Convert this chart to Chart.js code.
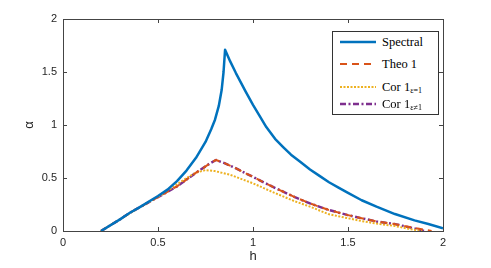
<!DOCTYPE html>
<html>
<head>
<meta charset="utf-8">
<script src="https://cdn.jsdelivr.net/npm/chart.js@4"></script>
<style>
  html, body { margin: 0; padding: 0; background: #fff; }
  #wrap { position: relative; width: 491px; height: 268px; }
  #legend {
    position: absolute; left: 332px; top: 31px; width: 105px; height: 82px;
    border: 1px solid #333; background: #fff;
    font-family: "Liberation Serif", "DejaVu Serif", serif; font-size: 12.5px; color: #000;
  }
  #legend .row { position: absolute; left: 0; height: 16px; line-height: 16px; white-space: nowrap; }
  #legend svg { position: absolute; left: 6px; top: 0; }
  #legend span { position: absolute; left: 49px; top: 0; }
  #legend sub { font-size: 8px; vertical-align: -2px; }
</style>
</head>
<body>
<div id="wrap">
  <canvas id="myChart" width="491" height="268"></canvas>
  <div id="legend">
    <div class="row" style="top:2px">
      <svg width="38" height="16"><line x1="1" y1="8" x2="37" y2="8" stroke="#0072BD" stroke-width="2.5"/></svg>
      <span>Spectral</span>
    </div>
    <div class="row" style="top:24px">
      <svg width="38" height="16"><line x1="1" y1="8" x2="37" y2="8" stroke="#D95319" stroke-width="2" stroke-dasharray="7,5"/></svg>
      <span>Theo 1</span>
    </div>
    <div class="row" style="top:47px">
      <svg width="38" height="16"><line x1="1" y1="8" x2="37" y2="8" stroke="#EDB120" stroke-width="2" stroke-dasharray="2,1.5"/></svg>
      <span>Cor 1<sub>ε=1</sub></span>
    </div>
    <div class="row" style="top:64px">
      <svg width="38" height="16"><line x1="1" y1="8" x2="37" y2="8" stroke="#7E2F8E" stroke-width="2.5" stroke-dasharray="6,2.5,2,2.5"/></svg>
      <span>Cor 1<sub>ε≠1</sub></span>
    </div>
  </div>
</div>
<script>
const hSpectral = [0.2, 0.3, 0.35, 0.4, 0.5, 0.55, 0.6, 0.65, 0.7, 0.75, 0.78, 0.8, 0.82, 0.835, 0.845, 0.853,
  0.88, 0.91, 0.96, 1.0, 1.03, 1.07, 1.116, 1.16, 1.2, 1.25, 1.3, 1.35, 1.4, 1.45, 1.5, 1.572, 1.65, 1.747, 1.85, 1.923, 2.0];
const spectral = [0, 0.11, 0.17, 0.22, 0.33, 0.39, 0.47, 0.57, 0.69, 0.84, 0.96, 1.05, 1.18, 1.33, 1.50, 1.71,
  1.60, 1.49, 1.32, 1.19, 1.10, 0.98, 0.87, 0.79, 0.72, 0.65, 0.58, 0.52, 0.46, 0.41, 0.36, 0.29, 0.23, 0.16, 0.10, 0.066, 0.025];

const hTheo = [0.2, 0.3, 0.35, 0.4, 0.5, 0.6, 0.7, 0.78, 0.805, 0.85, 0.9, 1.0, 1.1, 1.22, 1.3, 1.396, 1.5, 1.572, 1.65, 1.747, 1.86, 1.94];
const theo1 = [0, 0.11, 0.17, 0.22, 0.32, 0.42, 0.55, 0.645, 0.67, 0.64, 0.60, 0.51, 0.42, 0.32, 0.26, 0.20, 0.15, 0.12, 0.09, 0.065, 0.025, 0];

const hCorEq = [0.2, 0.3, 0.4, 0.5, 0.6, 0.65, 0.7, 0.75, 0.8, 0.88, 1.0, 1.1, 1.22, 1.3, 1.396, 1.5, 1.572, 1.65, 1.747, 1.82, 1.89];
const corEq = [0, 0.11, 0.22, 0.32, 0.44, 0.50, 0.55, 0.575, 0.565, 0.53, 0.45, 0.37, 0.28, 0.23, 0.16, 0.12, 0.094, 0.07, 0.047, 0.02, 0];

const hCorNe = [0.2, 0.3, 0.35, 0.4, 0.5, 0.6, 0.7, 0.78, 0.805, 0.85, 0.9, 1.0, 1.1, 1.22, 1.3, 1.396, 1.5, 1.572, 1.65, 1.747, 1.86, 1.9];
const corNe = [0, 0.11, 0.17, 0.22, 0.32, 0.42, 0.55, 0.645, 0.67, 0.64, 0.60, 0.51, 0.42, 0.32, 0.26, 0.20, 0.15, 0.12, 0.09, 0.065, 0.02, 0];

const xTicks = [0, 0.5, 1, 1.5, 2];
const yTicks = [0, 0.5, 1, 1.5, 2];

const pts = (xs, ys) => xs.map((x, i) => ({ x, y: ys[i] }));

const axisColor = '#444';
const tickFont = { family: 'Liberation Sans, Arial, sans-serif', size: 11 };
const titleFont = { family: 'Liberation Sans, Arial, sans-serif', size: 13 };

const boxTicks = {
  id: 'boxTicks',
  afterDatasetsDraw(chart) {
    const { ctx, chartArea: a, scales } = chart;
    ctx.save();
    ctx.strokeStyle = axisColor;
    ctx.lineWidth = 1;
    ctx.strokeRect(Math.round(a.left) + 0.5, Math.round(a.top) + 0.5,
      Math.round(a.right - a.left), Math.round(a.bottom - a.top));
    ctx.beginPath();
    xTicks.forEach((v) => {
      const px = Math.round(scales.x.getPixelForValue(v)) + 0.5;
      ctx.moveTo(px, a.bottom); ctx.lineTo(px, a.bottom - 4);
      ctx.moveTo(px, a.top); ctx.lineTo(px, a.top + 4);
    });
    yTicks.forEach((v) => {
      const py = Math.round(scales.y.getPixelForValue(v)) + 0.5;
      ctx.moveTo(a.left, py); ctx.lineTo(a.left + 4, py);
      ctx.moveTo(a.right, py); ctx.lineTo(a.right - 4, py);
    });
    ctx.stroke();
    ctx.restore();
  },
};

const ctx = document.getElementById('myChart');
new Chart(ctx, {       // eslint-disable-line
  type: 'line',
  data: {
    datasets: [
      {
        label: 'Spectral',
        data: pts(hSpectral, spectral),
        borderColor: '#0072BD',
        borderWidth: 2.5,
      },
      {
        label: 'Theo 1',
        data: pts(hTheo, theo1),
        borderColor: '#D95319',
        borderWidth: 2,
        borderDash: [7, 5],
      },
      {
        label: 'Cor 1 ε=1',
        data: pts(hCorEq, corEq),
        borderColor: '#EDB120',
        borderWidth: 2,
        borderDash: [2, 1.5],
      },
      {
        label: 'Cor 1 ε≠1',
        data: pts(hCorNe, corNe),
        borderColor: '#7E2F8E',
        borderWidth: 2.5,
        borderDash: [6, 2.5, 2, 2.5],
      },
    ],
  },
  options: {
    responsive: false,
    animation: false,
    elements: { point: { radius: 0 }, line: { fill: false, tension: 0, borderJoinStyle: 'round' } },
    layout: { padding: { top: 19, right: 48, left: 0, bottom: 0 } },
    plugins: { legend: { display: false }, tooltip: { enabled: false } },
    scales: {
      x: {
        type: 'linear',
        min: 0,
        max: 2,
        afterBuildTicks: (s) => { s.ticks = xTicks.map((v) => ({ value: v })); },
        afterFit: (s) => { s.height = 37; },
        grid: { display: false, drawTicks: false },
        border: { display: false },
        ticks: { color: '#262626', font: tickFont, padding: 5, maxRotation: 0, callback: (v) => String(v) },
        title: {
          display: true, text: 'h', color: '#262626', font: titleFont,
          padding: { top: 0, bottom: 4 },
        },
      },
      y: {
        min: 0,
        max: 2,
        afterBuildTicks: (s) => { s.ticks = yTicks.map((v) => ({ value: v })); },
        afterFit: (s) => { s.width = 63; },
        grid: { display: false, drawTicks: false },
        border: { display: false },
        ticks: { color: '#262626', font: tickFont, padding: 6, callback: (v) => String(v) },
        title: {
          display: true, text: 'α', color: '#262626', font: titleFont,
          padding: { top: 22, bottom: 0 },
        },
      },
    },
  },
  plugins: [boxTicks],
});
</script>
</body>
</html>
